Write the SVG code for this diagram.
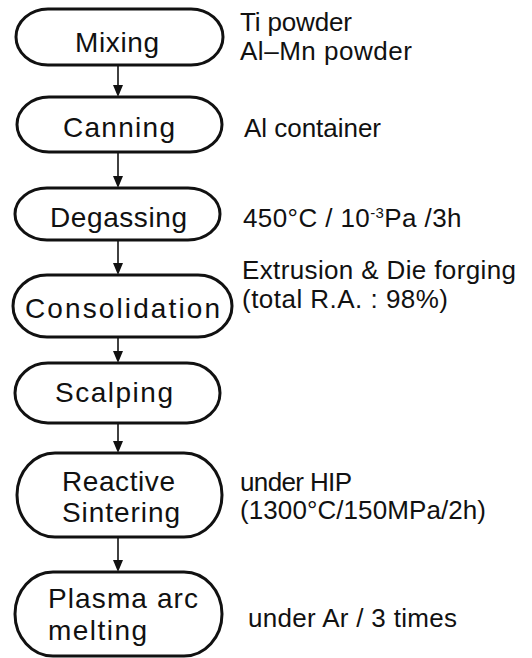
<svg xmlns="http://www.w3.org/2000/svg" width="532" height="658" viewBox="0 0 532 658">
<defs>
<style>
.node rect{fill:#fff;stroke:#111;stroke-width:3}
.lbl{font-family:"Liberation Sans",Arial,sans-serif;font-size:28px;fill:#111}
.ann{font-family:"Liberation Sans",Arial,sans-serif;font-size:26px;fill:#111}
.conn line{stroke:#111;stroke-width:1.6}
.conn polygon{fill:#111}
</style>
</defs>
<rect width="532" height="658" fill="#fff"/>
<g id="connectors" class="conn">
<line x1="118" y1="65" x2="118" y2="88"/><polygon points="113,85 123,85 118,97"/>
<line x1="118" y1="152" x2="118" y2="179"/><polygon points="113,176 123,176 118,188"/>
<line x1="118" y1="240" x2="118" y2="266"/><polygon points="113,263 123,263 118,275"/>
<line x1="118" y1="337" x2="118" y2="354"/><polygon points="113,351 123,351 118,363"/>
<line x1="118" y1="423" x2="118" y2="444"/><polygon points="113,441 123,441 118,453"/>
<line x1="118" y1="537" x2="118" y2="563"/><polygon points="113,560 123,560 118,572"/>
</g>
<g id="mixing" class="node">
<rect x="16" y="9" width="207" height="56" rx="32" ry="28"/>
<text class="lbl" x="75" y="52" textLength="84">Mixing</text>
</g>
<g id="canning" class="node">
<rect x="17" y="97" width="205" height="55" rx="32" ry="27.5"/>
<text class="lbl" x="63" y="137" textLength="112">Canning</text>
</g>
<g id="degassing" class="node">
<rect x="15" y="188" width="205" height="52" rx="32" ry="26"/>
<text class="lbl" x="50" y="227" textLength="137">Degassing</text>
</g>
<g id="consolidation" class="node">
<rect x="13" y="275" width="219" height="62" rx="34" ry="31"/>
<text class="lbl" x="25" y="318" textLength="195">Consolidation</text>
</g>
<g id="scalping" class="node">
<rect x="15" y="363" width="205" height="60" rx="33" ry="30"/>
<text class="lbl" x="55" y="402" textLength="118">Scalping</text>
</g>
<g id="reactive-sintering" class="node">
<rect x="17" y="453" width="205" height="84" rx="38" ry="42"/>
<text class="lbl" x="62" y="491" textLength="113">Reactive</text>
<text class="lbl" x="62" y="522" textLength="118">Sintering</text>
</g>
<g id="plasma-arc-melting" class="node">
<rect x="15" y="572" width="207" height="84" rx="38" ry="42"/>
<text class="lbl" x="48" y="608" textLength="150">Plasma arc</text>
<text class="lbl" x="48" y="640" textLength="99">melting</text>
</g>
<g id="annotations">
<text class="ann" x="240" y="30.5" textLength="112">Ti powder</text>
<text class="ann" x="240" y="60" textLength="172">Al–Mn powder</text>
<text class="ann" x="244" y="137" textLength="137">Al container</text>
<text class="ann" x="243" y="227" letter-spacing="0.4">450°C / 10<tspan font-size="15" dy="-9">-3</tspan><tspan dy="9">Pa /3h</tspan></text>
<text class="ann" x="242" y="279" textLength="274">Extrusion &amp; Die forging</text>
<text class="ann" x="242" y="308" textLength="206">(total R.A. : 98%)</text>
<text class="ann" x="240" y="490.5" textLength="112" font-size="25">under HIP</text>
<text class="ann" x="240" y="519" textLength="246" font-size="25">(1300°C/150MPa/2h)</text>
<text class="ann" x="248" y="627" textLength="209">under Ar / 3 times</text>
</g>
</svg>
